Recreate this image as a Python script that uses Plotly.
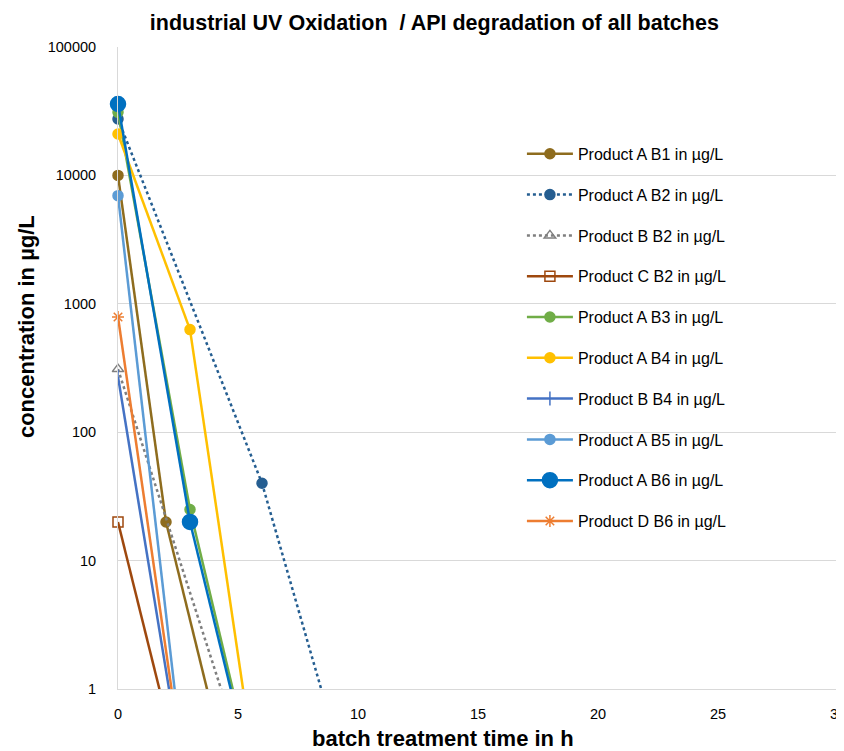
import plotly.graph_objects as go

# ---- data ----
series_names = [
    "Product A B1 in µg/L", "Product A B2 in µg/L", "Product B B2 in µg/L",
    "Product C B2 in µg/L", "Product A B3 in µg/L", "Product A B4 in µg/L",
    "Product B B4 in µg/L", "Product A B5 in µg/L", "Product A B6 in µg/L",
    "Product D B6 in µg/L",
]
a_b1_t = [0, 2, 4];  a_b1_c = [10000, 20, 0.6]
a_b2_t = [0, 6, 9];  a_b2_c = [27500, 40, 0.45]
b_b2_t = [0, 5];     b_b2_c = [310, 0.39]
c_b2_t = [0, 2];     c_b2_c = [20, 0.62]
a_b3_t = [0, 3, 6];  a_b3_c = [31000, 25, 0.11]
a_b4_t = [0, 3, 6];  a_b4_c = [21000, 630, 0.1]
b_b4_t = [0, 3];     b_b4_c = [270, 0.1]
a_b5_t = [0, 3];     a_b5_c = [6950, 0.09]
a_b6_t = [0, 3, 6];  a_b6_c = [36000, 20, 0.1]
d_b6_t = [0, 3];     d_b6_c = [790, 0.1]

y_tick_vals = [1, 10, 100, 1000, 10000, 100000]
y_tick_text = ["1", "10", "100", "1000", "10000", "100000"]
x_tick_vals = [0, 5, 10, 15, 20, 25, 30]

# ---- styles ----
styles = [
    dict(color="#8E6C1E", dash="solid", symbol="circle", size=10),
    dict(color="#255E91", dash="dot", symbol="circle", size=10),
    dict(color="#7F7F7F", dash="dot", symbol="triangle-up-open", size=10),
    dict(color="#9E480E", dash="solid", symbol="square-open", size=10),
    dict(color="#70AD47", dash="solid", symbol="circle", size=10),
    dict(color="#FFC000", dash="solid", symbol="circle", size=10),
    dict(color="#4472C4", dash="solid", symbol="line-ns-open", size=10),
    dict(color="#5B9BD5", dash="solid", symbol="circle", size=10),
    dict(color="#0070C0", dash="solid", symbol="circle", size=15),
    dict(color="#ED7D31", dash="solid", symbol="asterisk-open", size=10),
]
data = [
    (a_b1_t, a_b1_c), (a_b2_t, a_b2_c), (b_b2_t, b_b2_c), (c_b2_t, c_b2_c),
    (a_b3_t, a_b3_c), (a_b4_t, a_b4_c), (b_b4_t, b_b4_c), (a_b5_t, a_b5_c),
    (a_b6_t, a_b6_c), (d_b6_t, d_b6_c),
]

FONT = "Liberation Sans"
fig = go.Figure()
for name, (t, c), st in zip(series_names, data, styles):
    vis_t = [ti for ti, ci in zip(t, c) if ci >= 1]
    vis_c = [ci for ci in c if ci >= 1]
    k = len(vis_t) - 1
    # tail segment that leaves the axis range (clipped by the plot area)
    fig.add_trace(go.Scatter(
        x=t[k:], y=c[k:], mode="lines", showlegend=False, hoverinfo="skip",
        line=dict(color=st["color"], width=2.5, dash=st["dash"]),
        legendgroup=name,
    ))
    fig.add_trace(go.Scatter(
        x=vis_t, y=vis_c, mode="lines+markers", name=name, legendgroup=name,
        cliponaxis=False,
        line=dict(color=st["color"], width=2.5, dash=st["dash"]),
        marker=dict(symbol=st["symbol"], size=st["size"], color=st["color"],
                    line=dict(color=st["color"], width=1.5)),
    ))

fig.update_layout(
    width=836, height=743,
    margin=dict(l=110, r=6, t=39, b=62, autoexpand=False),
    paper_bgcolor="white", plot_bgcolor="white",
    font=dict(family=FONT, size=14.5, color="#000000"),
    title=dict(text="<b>industrial UV Oxidation  / API degradation of all batches</b>",
               x=0.51, xanchor="center", y=0.981, yanchor="middle",
               font=dict(family=FONT, size=21.5, color="#000000")),
    showlegend=True,
    legend=dict(x=0.561, xanchor="left", y=0.86, yanchor="top",
                bgcolor="rgba(0,0,0,0)", font=dict(family=FONT, size=16),
                tracegroupgap=17, itemwidth=46, traceorder="grouped"),
    annotations=[
        dict(text="<b>concentration in µg/L</b>", textangle=-90,
             xref="paper", yref="paper", x=-0.128, y=0.565,
             xanchor="center", yanchor="middle", showarrow=False,
             font=dict(family=FONT, size=22, color="#000000")),
        dict(text="<b>batch treatment time in h</b>",
             xref="paper", yref="paper", x=0.451, y=-0.077,
             xanchor="center", yanchor="middle", showarrow=False,
             font=dict(family=FONT, size=22, color="#000000")),
    ],
)
fig.update_xaxes(
    range=[0, 30], tickvals=x_tick_vals, showgrid=False, zeroline=False,
    showline=True, linecolor="#D9D9D9", linewidth=1, ticks="",
    ticklabelstandoff=12, ticklabeloverflow="allow", automargin=False,
)
fig.update_yaxes(
    type="log", range=[0, 5], tickvals=y_tick_vals, ticktext=y_tick_text,
    showgrid=True, gridcolor="#D9D9D9", gridwidth=1, zeroline=False,
    showline=True, linecolor="#D9D9D9", linewidth=1, ticks="",
    ticklabelstandoff=18, automargin=False,
)

fig.write_html("out.html")
